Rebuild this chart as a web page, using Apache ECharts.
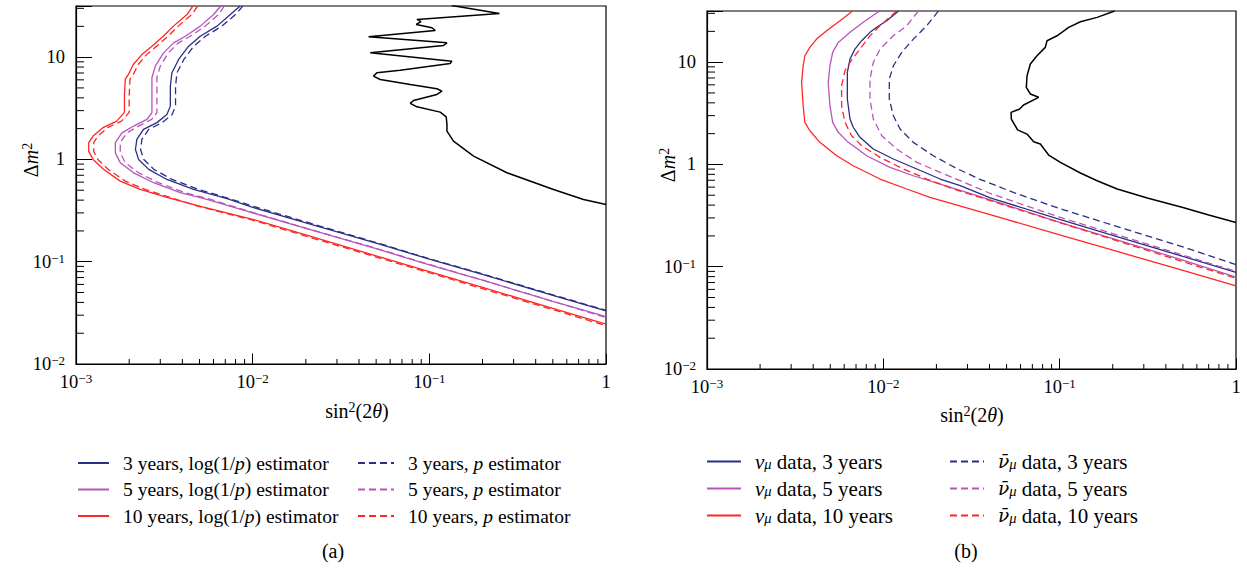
<!DOCTYPE html>
<html><head><meta charset="utf-8">
<script src="https://cdn.jsdelivr.net/npm/echarts@6/dist/echarts.min.js"></script>
<style>html,body{margin:0;padding:0;background:#fff}#c{width:1247px;height:571px}</style>
</head><body><div id="c"></div>
<script>
// ---------- axis ticks ----------
const xTickValues = [0.001, 0.01, 0.1, 1];
const xTickLabels = ['10{s|\u22123}', '10{s|\u22122}', '10{s|\u22121}', '1'];
const yTickValues = [0.01, 0.1, 1, 10];
const yTickLabels = ['10{s|\u22122}', '10{s|\u22121}', '1', '10'];
const xMinorTicks = [0.002,0.003,0.004,0.005,0.006,0.007,0.008,0.009,0.02,0.03,0.04,0.05,0.06,0.07,0.08,0.09,0.2,0.3,0.4,0.5,0.6,0.7,0.8,0.9];
const yMinorTicks = [0.02,0.03,0.04,0.05,0.06,0.07,0.08,0.09,0.2,0.3,0.4,0.5,0.6,0.7,0.8,0.9,2,3,4,5,6,7,8,9,20,30];
const X_MIN = 0.001, X_MAX = 1, Y_MIN = 0.01, Y_MAX = 31.6228;

// ---------- panel (a) ----------
const aLog3 = [[0.0085,31.6],[0.00747,26.1],[0.00628,20.1],[0.00505,16.0],[0.00434,12.8],[0.00381,9.5],[0.00349,7.04],[0.00342,5.21],[0.00342,3.32],[0.00327,2.75],[0.00287,2.29],[0.00241,1.97],[0.00221,1.57],[0.00217,1.25],[0.00226,1.0],[0.00258,0.8],[0.00327,0.637],[0.00463,0.509],[0.00716,0.413],[0.01,0.34],[0.02,0.24],[0.05,0.152],[0.1,0.106],[0.2,0.075],[0.5,0.047],[1,0.033]];
const aLog5 = [[0.0066,31.6],[0.00601,26.1],[0.00505,20.1],[0.00416,16.0],[0.00357,13.8],[0.00313,11.0],[0.00281,8.17],[0.00269,6.29],[0.00269,4.16],[0.00269,2.86],[0.00252,2.46],[0.00212,2.12],[0.00182,1.82],[0.00167,1.46],[0.00167,1.16],[0.00178,0.93],[0.00212,0.74],[0.00275,0.592],[0.00389,0.473],[0.00551,0.406],[0.01,0.30],[0.02,0.212],[0.05,0.134],[0.1,0.093],[0.2,0.066],[0.5,0.041],[1,0.029]];
const aLog10 = [[0.00458,31.6],[0.00425,26.1],[0.00356,20.1],[0.00312,16.0],[0.00269,12.8],[0.00236,10.6],[0.00211,8.48],[0.00198,6.77],[0.0019,6.05],[0.00188,4.16],[0.00188,2.88],[0.0017,2.37],[0.00143,2.06],[0.00125,1.69],[0.00118,1.46],[0.00118,1.2],[0.00125,1.0],[0.00143,0.8],[0.00178,0.614],[0.00231,0.509],[0.00327,0.425],[0.005,0.35],[0.01,0.26],[0.02,0.183],[0.05,0.114],[0.1,0.080],[0.2,0.056],[0.5,0.035],[1,0.0245]];
const aP3 = [[0.0088,31.6],[0.008,26.1],[0.0067,20.1],[0.0054,16.0],[0.00464,12.8],[0.00408,9.5],[0.00373,7.04],[0.00366,5.21],[0.00366,3.32],[0.0035,2.75],[0.00307,2.29],[0.00258,1.97],[0.00236,1.57],[0.00232,1.25],[0.00242,1.0],[0.00276,0.8],[0.0035,0.637],[0.00495,0.509],[0.0075,0.41],[0.01,0.35],[0.02,0.245],[0.05,0.154],[0.1,0.107],[0.2,0.076],[0.5,0.0475],[1,0.0335]];
const aP5 = [[0.0069,31.6],[0.0064,26.1],[0.0054,20.1],[0.00443,16.0],[0.0038,13.8],[0.00333,11.0],[0.003,8.17],[0.00287,6.29],[0.00287,4.16],[0.00287,2.86],[0.00268,2.46],[0.00226,2.12],[0.00194,1.82],[0.00178,1.46],[0.00178,1.16],[0.0019,0.93],[0.00226,0.74],[0.00293,0.592],[0.00414,0.473],[0.00585,0.404],[0.01,0.303],[0.02,0.213],[0.05,0.135],[0.1,0.094],[0.2,0.066],[0.5,0.041],[1,0.0285]];
const aP10 = [[0.00488,31.6],[0.00452,26.1],[0.00379,20.1],[0.00332,16.0],[0.00286,12.8],[0.00251,10.6],[0.00225,8.48],[0.00211,6.77],[0.00202,6.05],[0.002,4.16],[0.002,2.88],[0.00181,2.37],[0.00152,2.06],[0.00133,1.69],[0.00126,1.46],[0.00126,1.2],[0.00133,1.0],[0.00152,0.8],[0.0019,0.614],[0.00246,0.509],[0.00348,0.42],[0.005,0.345],[0.01,0.255],[0.02,0.178],[0.05,0.111],[0.1,0.078],[0.2,0.0545],[0.5,0.034],[1,0.0237]];
const aBlack = [[0.134,32],[0.2495,26.7],[0.0851,23.4],[0.0897,22.2],[0.0843,20.9],[0.1034,19.4],[0.108,18.2],[0.0453,15.8],[0.1258,13.8],[0.1203,13.0],[0.0463,11.04],[0.1342,9.14],[0.1313,8.68],[0.0684,7.46],[0.0505,7.04],[0.0483,6.52],[0.0527,6.05],[0.078,5.41],[0.1104,4.91],[0.1178,4.65],[0.1104,4.32],[0.0814,3.77],[0.078,3.53],[0.0851,3.27],[0.1152,2.90],[0.1246,2.61],[0.1258,2.20],[0.1258,1.89],[0.137,1.51],[0.178,1.077],[0.275,0.741],[0.5045,0.509],[0.746,0.406],[1,0.363]];

// ---------- panel (b) ----------
const bNu3 = [[0.0122,31.6],[0.01045,25.4],[0.00917,21.9],[0.0084,19.56],[0.00754,16.2],[0.0069,13.43],[0.00647,10.7],[0.00625,7.95],[0.00625,4.36],[0.00647,2.78],[0.00675,2.31],[0.00737,1.84],[0.00877,1.415],[0.0114,1.13],[0.01548,0.902],[0.021,0.72],[0.0273,0.62],[0.0404,0.47],[0.1,0.291],[0.2,0.203],[0.5,0.126],[1,0.088]];
const bNu5 = [[0.0095,31.6],[0.0077,24.5],[0.00647,19.56],[0.00555,15.6],[0.00516,12.47],[0.00498,9.22],[0.00487,6.35],[0.00498,3.75],[0.00516,2.58],[0.00555,2.06],[0.00633,1.644],[0.00805,1.216],[0.0109,0.937],[0.0148,0.775],[0.021,0.643],[0.03,0.53],[0.05,0.40],[0.1,0.272],[0.2,0.188],[0.5,0.116],[1,0.079]];
const bNu10 = [[0.0067,31.6],[0.00568,25.4],[0.00477,20.3],[0.00418,16.8],[0.00383,13.95],[0.00359,11.55],[0.00351,9.22],[0.00344,6.35],[0.00351,3.75],[0.00359,2.58],[0.00383,2.135],[0.00437,1.644],[0.00544,1.216],[0.00675,0.971],[0.00957,0.72],[0.01358,0.575],[0.0184,0.477],[0.03,0.374],[0.05,0.29],[0.1,0.205],[0.2,0.145],[0.5,0.092],[1,0.065]];
const bBar3 = [[0.0205,31.6],[0.01764,22.7],[0.0148,16.8],[0.01272,12.47],[0.0114,9.22],[0.01081,6.84],[0.01081,4.36],[0.0114,2.99],[0.01244,2.22],[0.0148,1.644],[0.0192,1.216],[0.0255,0.93],[0.035,0.72],[0.055,0.53],[0.1,0.37],[0.2,0.255],[0.5,0.156],[1,0.105]];
const bBar5 = [[0.0158,31.6],[0.01358,22.7],[0.0114,18.1],[0.00958,13.43],[0.00877,9.95],[0.0084,6.84],[0.0084,4.36],[0.00877,2.78],[0.0098,1.908],[0.01191,1.415],[0.01548,1.048],[0.021,0.837],[0.0273,0.693],[0.0404,0.52],[0.1,0.305],[0.2,0.211],[0.5,0.13],[1,0.09]];
const bBar10 = [[0.0119,31.6],[0.00958,22.7],[0.0084,18.1],[0.00737,13.43],[0.00647,9.95],[0.00606,8.24],[0.0058,5.88],[0.0058,3.75],[0.00606,2.58],[0.00661,1.908],[0.00754,1.523],[0.00958,1.173],[0.013,0.902],[0.01764,0.72],[0.025,0.575],[0.05,0.394],[0.1,0.27],[0.2,0.185],[0.5,0.112],[1,0.077]];
const bBlack = [[0.205,31.6],[0.1631,27.4],[0.1311,24.8],[0.1125,21.9],[0.0966,18.1],[0.0848,16.2],[0.0829,13.95],[0.0744,11.55],[0.0682,9.58],[0.0653,7.36],[0.0647,5.67],[0.0682,4.88],[0.076,4.53],[0.0624,3.81],[0.0593,3.48],[0.053,3.23],[0.0532,2.78],[0.0577,2.18],[0.0653,1.98],[0.0712,1.667],[0.0777,1.582],[0.0866,1.236],[0.101,1.048],[0.1311,0.824],[0.1631,0.693],[0.212,0.575],[0.3138,0.469],[0.5,0.38],[0.7,0.32],[1,0.27]];

// ---------- names / texts ----------
const namesA = ['3 years, log(1/p) estimator','5 years, log(1/p) estimator','10 years, log(1/p) estimator'];
const namesAP = ['3 years, p estimator','5 years, p estimator','10 years, p estimator'];
const namesB = ['\u03bd\u03bc data, 3 years','\u03bd\u03bc data, 5 years','\u03bd\u03bc data, 10 years'];
const namesBB = ['\u03bd\u0304\u03bc data, 3 years','\u03bd\u0304\u03bc data, 5 years','\u03bd\u0304\u03bc data, 10 years'];
const legendRich = {
  '3 years, log(1/p) estimator': '{g| }3 years, log(1/{i|p}) estimator',
  '5 years, log(1/p) estimator': '{g| }5 years, log(1/{i|p}) estimator',
  '10 years, log(1/p) estimator': '{g| }10 years, log(1/{i|p}) estimator',
  '3 years, p estimator': '{g| }3 years, {i|p} estimator',
  '5 years, p estimator': '{g| }5 years, {i|p} estimator',
  '10 years, p estimator': '{g| }10 years, {i|p} estimator',
  '\u03bd\u03bc data, 3 years': '{g| }{i|\u03bd}{sub|\u03bc} data, 3 years',
  '\u03bd\u03bc data, 5 years': '{g| }{i|\u03bd}{sub|\u03bc} data, 5 years',
  '\u03bd\u03bc data, 10 years': '{g| }{i|\u03bd}{sub|\u03bc} data, 10 years',
  '\u03bd\u0304\u03bc data, 3 years': '{g| }{ib|\u03bd\u0304}{sub|\u03bc} data, 3 years',
  '\u03bd\u0304\u03bc data, 5 years': '{g| }{ib|\u03bd\u0304}{sub|\u03bc} data, 5 years',
  '\u03bd\u0304\u03bc data, 10 years': '{g| }{ib|\u03bd\u0304}{sub|\u03bc} data, 10 years'
};

const FONT = '"Liberation Serif","Times New Roman",serif';
const C_BLUE = '#2b2f86', C_MAG = '#b855b8', C_RED = '#ff2626', C_BLK = '#000';

function tickFmt(values, labels) {
  return function (v) {
    for (let i = 0; i < values.length; i++) {
      if (Math.abs(Math.log10(v) - Math.log10(values[i])) < 1e-6) return labels[i];
    }
    return '';
  };
}
const numRich = { s: { fontSize: 13, fontFamily: FONT, color: '#000', verticalAlign: 'top', lineHeight: 9 } };

function xAx(g) {
  return { type: 'log', logBase: 10, gridIndex: g, min: X_MIN, max: X_MAX,
    axisLine: { show: true, onZero: false, lineStyle: { color: '#000', width: 1.2 } },
    axisTick: { show: true, inside: true, length: 10.5, lineStyle: { color: '#000', width: 1 } },
    axisLabel: { margin: 8, color: '#000', fontFamily: FONT, fontSize: 18.5, lineHeight: 20, formatter: tickFmt(xTickValues, xTickLabels), rich: numRich, showMinLabel: true, showMaxLabel: true },
    splitLine: { show: false } };
}
function yAx(g) {
  return { type: 'log', logBase: 10, gridIndex: g, min: Y_MIN, max: Y_MAX,
    axisLine: { show: true, onZero: false, lineStyle: { color: '#000', width: 1.2 } },
    axisTick: { show: true, inside: true, length: 16, lineStyle: { color: '#000', width: 1 } },
    axisLabel: { margin: 11, color: '#000', fontFamily: FONT, fontSize: 18.5, lineHeight: 20, formatter: tickFmt(yTickValues, yTickLabels), rich: numRich },
    splitLine: { show: false } };
}
function line(name, data, color, dashed, g, w) {
  return { type: 'line', name: name, data: data, xAxisIndex: g, yAxisIndex: g,
    symbol: 'none', showSymbol: false, smooth: false, clip: true, silent: true, z: 3,
    lineStyle: { color: color, width: w || 1.3, type: dashed ? [7, 4] : 'solid' },
    itemStyle: { color: color } };
}
function minorX(g) {
  return { type: 'custom', xAxisIndex: g, yAxisIndex: g, silent: true, z: 5, clip: false,
    data: xMinorTicks.map(v => [v, Y_MIN]),
    renderItem: function (p, api) {
      const c = api.coord([api.value(0), api.value(1)]);
      return { type: 'line', shape: { x1: c[0], y1: c[1], x2: c[0], y2: c[1] - 5 }, style: { stroke: '#000', lineWidth: 1 } };
    } };
}
function minorY(g) {
  return { type: 'custom', xAxisIndex: g, yAxisIndex: g, silent: true, z: 5, clip: false,
    data: yMinorTicks.map(v => [X_MIN, v]),
    renderItem: function (p, api) {
      const c = api.coord([api.value(0), api.value(1)]);
      return { type: 'line', shape: { x1: c[0], y1: c[1], x2: c[0] + 8, y2: c[1] }, style: { stroke: '#000', lineWidth: 1 } };
    } };
}
function legRich(fs) {
  return {
    g: { width: 9 },
    i: { fontStyle: 'italic', fontFamily: FONT, fontSize: fs, lineHeight: 20, color: '#000' },
    ib: { fontStyle: 'italic', fontFamily: '"DejaVu Serif"', fontSize: fs - 2.5, lineHeight: 20, color: '#000' },
    sub: { fontStyle: 'italic', fontFamily: FONT, fontSize: 14.5, lineHeight: 8, verticalAlign: 'bottom', color: '#000' }
  };
}
function leg(names, left, top, gap, w, fs) {
  return { data: names, orient: 'vertical', left: left, top: top, itemWidth: w, itemHeight: 12, itemGap: gap,
    selectedMode: false, padding: 0,
    itemStyle: { opacity: 0 },
    formatter: function (n) { return legendRich[n] || n; },
    textStyle: { fontFamily: FONT, fontSize: fs, lineHeight: 20, color: '#000', rich: legRich(fs) } };
}
const txtRich = {
  i: { fontStyle: 'italic', fontFamily: FONT, fontSize: 20, lineHeight: 22, fill: '#000', color: '#000' },
  s: { fontFamily: FONT, fontSize: 14, lineHeight: 10, verticalAlign: 'top', fill: '#000', color: '#000' }
};
function gtext(text, x, y, rot) {
  return { type: 'text', x: x, y: y, rotation: rot || 0, silent: true,
    style: { text: text, font: '20px ' + FONT, fill: '#000', align: 'center', verticalAlign: 'middle', rich: txtRich } };
}

const chart = echarts.init(document.getElementById('c'), null, { renderer: 'svg', width: 1247, height: 571 });
chart.setOption({
  animation: false,
  backgroundColor: '#fff',
  grid: [
    { left: 76, top: 6, width: 530, height: 358, show: true, borderColor: '#000', borderWidth: 1.2, backgroundColor: 'transparent' },
    { left: 707, top: 11, width: 529, height: 358, show: true, borderColor: '#000', borderWidth: 1.2, backgroundColor: 'transparent' }
  ],
  xAxis: [xAx(0), xAx(1)],
  yAxis: [yAx(0), yAx(1)],
  legend: [
    leg(namesA, 77, 453, 6.5, 31, 19.5),
    leg(namesAP, 357, 453, 6.5, 36, 19.5),
    leg(namesB, 706, 451, 6, 34, 21),
    leg(namesBB, 949, 451, 6, 34, 21)
  ],
  graphic: [
    gtext('\u0394{i|m}{s|2}', 31, 160, Math.PI / 2),
    gtext('sin{s|2}(2{i|\u03b8})', 357, 411),
    gtext('(a)', 333, 551),
    gtext('\u0394{i|m}{s|2}', 668, 165, Math.PI / 2),
    gtext('sin{s|2}(2{i|\u03b8})', 972, 415),
    gtext('(b)', 966, 551)
  ],
  series: [
    line(namesA[0], aLog3, C_BLUE, false, 0),
    line(namesA[1], aLog5, C_MAG, false, 0),
    line(namesA[2], aLog10, C_RED, false, 0),
    line(namesAP[0], aP3, C_BLUE, true, 0),
    line(namesAP[1], aP5, C_MAG, true, 0),
    line(namesAP[2], aP10, C_RED, true, 0),
    line('excluded a', aBlack, C_BLK, false, 0, 1.5),
    line(namesB[0], bNu3, C_BLUE, false, 1),
    line(namesB[1], bNu5, C_MAG, false, 1),
    line(namesB[2], bNu10, C_RED, false, 1),
    line(namesBB[0], bBar3, C_BLUE, true, 1),
    line(namesBB[1], bBar5, C_MAG, true, 1),
    line(namesBB[2], bBar10, C_RED, true, 1),
    line('excluded b', bBlack, C_BLK, false, 1, 1.5),
    minorX(0), minorY(0), minorX(1), minorY(1)
  ]
});
</script></body></html>
